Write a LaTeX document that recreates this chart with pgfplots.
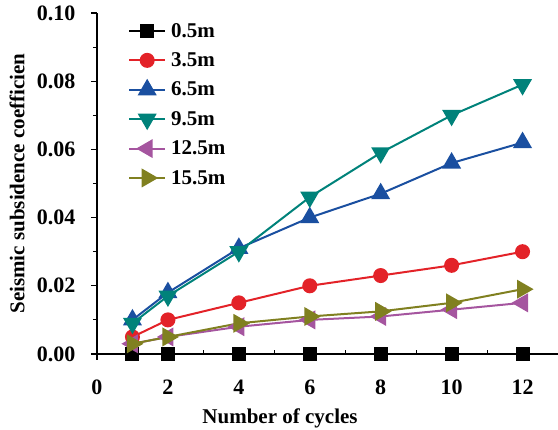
\documentclass[border=0pt]{standalone}
\usepackage{fontspec}
\setmainfont{Liberation Serif}
\usepackage{pgfplots}
\pgfplotsset{compat=1.18}
\definecolor{cred}{HTML}{E32228}
\definecolor{cblue}{HTML}{1A4FA0}
\definecolor{cteal}{HTML}{00827A}
\definecolor{cpurple}{HTML}{A5559F}
\definecolor{colive}{HTML}{808020}
\begin{document}
\begin{tikzpicture}
\useasboundingbox (-97pt,-76pt) rectangle (461pt,354pt);
\begin{axis}[
  at={(0pt,0pt)}, anchor=origin,
  scale only axis,
  width=461pt, height=341pt,
  xmin=0, xmax=13, ymin=0, ymax=0.10,
  axis x line*=bottom, axis y line*=left,
  axis line style={line width=1.3pt, black},
  xtick={0,2,4,6,8,10,12},
  minor xtick={1,3,5,7,9,11},
  ytick={0,0.02,0.04,0.06,0.08,0.10},
  minor ytick={0.01,0.03,0.05,0.07,0.09},
  tick align=outside,
  major tick length=6pt, minor tick length=4pt,
  tick style={line width=1.1pt, black},
  minor x tick style={yshift=4pt},
  yticklabel style={/pgf/number format/fixed, /pgf/number format/fixed zerofill, /pgf/number format/precision=2, xshift=-12pt},
  xticklabel style={yshift=-16pt},
  scaled y ticks=false,
  /pgf/number format/assume math mode=true,
  ticklabel style={font=\bfseries\fontsize{22}{26}\selectfont},
  label style={font=\bfseries\fontsize{21}{25}\selectfont},
  xlabel={Number of cycles},
  ylabel={Seismic subsidence coefficien},
  xlabel style={at={(rel axis cs:0.397,0)}, anchor=base, yshift=-70pt},
  ylabel style={at={([xshift=-80pt]rel axis cs:0,0.5)}, anchor=center},
  legend cell align=left,
  legend style={draw=none, fill=none, at={(rel axis cs:0,1)}, anchor=north west,
    xshift=31pt, yshift=-8pt, font=\bfseries\fontsize{21}{25}\selectfont,
    row sep=10pt, inner sep=0pt,
    /tikz/every odd column/.append style={column sep=3pt}},
  legend image code/.code={\draw[mark repeat=2, mark phase=2] plot coordinates {(0pt,0pt) (18pt,0pt) (36pt,0pt)};},
  every axis plot/.append style={line width=2pt},
  clip=false,
]
\addplot[color=black, mark=square*, mark size=6pt, mark options={solid}] coordinates {
(1,0) (2,0) (4,0) (6,0) (8,0) (10,0) (12,0)};
\addlegendentry{0.5m}
\addplot[color=cred, mark=*, mark size=6.5pt] coordinates {
(1,0.005) (2,0.010) (4,0.015) (6,0.020) (8,0.023) (10,0.026) (12,0.030)};
\addlegendentry{3.5m}
\addplot[color=cblue, mark=triangle*, mark size=9pt] coordinates {
(1,0.010) (2,0.018) (4,0.031) (6,0.040) (8,0.047) (10,0.056) (12,0.062)};
\addlegendentry{6.5m}
\addplot[color=cteal, mark=triangle*, mark size=9pt, mark options={rotate=180}] coordinates {
(1,0.009) (2,0.017) (4,0.030) (6,0.046) (8,0.059) (10,0.070) (12,0.079)};
\addlegendentry{9.5m}
\addplot[color=cpurple, mark=triangle*, mark size=9pt, mark options={rotate=90}] coordinates {
(1,0.003) (2,0.005) (4,0.008) (6,0.010) (8,0.011) (10,0.013) (12,0.015)};
\addlegendentry{12.5m}
\addplot[color=colive, mark=triangle*, mark size=9pt, mark options={rotate=-90}] coordinates {
(1,0.003) (2,0.005) (4,0.009) (6,0.011) (8,0.0125) (10,0.015) (12,0.019)};
\addlegendentry{15.5m}
\end{axis}
\end{tikzpicture}
\end{document}
